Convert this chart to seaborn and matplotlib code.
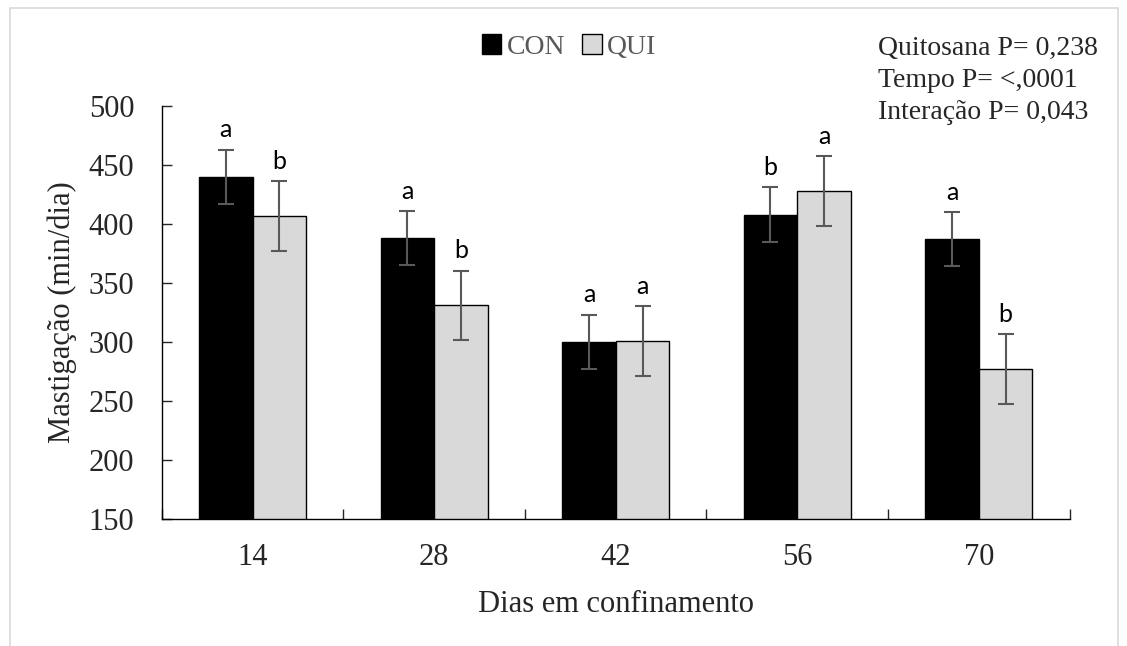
import pandas as pd
import seaborn as sns
import matplotlib.pyplot as plt
from matplotlib.patches import Rectangle

# Data
dias = ['14', '28', '42', '56', '70']
con_media = [440, 388, 300, 408, 387]
qui_media = [407, 331, 301, 428, 277]
con_erro = [23, 23, 23, 23, 23]
qui_erro = [29.5, 29.5, 29.5, 29.5, 29.5]
con_letras = ['a', 'a', 'a', 'b', 'a']
qui_letras = ['b', 'b', 'a', 'a', 'b']
tratamentos = ['CON', 'QUI']

df = pd.DataFrame({
    'Dias': dias * 2,
    'Mastigacao': con_media + qui_media,
    'Tratamento': ['CON'] * len(dias) + ['QUI'] * len(dias),
})

sns.set_style('white')
plt.rcParams['font.family'] = ['Liberation Serif', 'DejaVu Serif']

fig = plt.figure(figsize=(11.27, 6.46), dpi=100)
ax = fig.add_axes([0.1437, 0.1966, 0.949 - 0.1437, 0.836 - 0.1966])

sns.barplot(data=df, x='Dias', y='Mastigacao', hue='Tratamento',
            palette={'CON': '#000000', 'QUI': '#d9d9d9'},
            width=0.59, errorbar=None, edgecolor='black', linewidth=1,
            ax=ax)

# error bars and letters on top of each bar
for cont, erros, letras in zip(ax.containers, [con_erro, qui_erro], [con_letras, qui_letras]):
    for bar, e, letra in zip(cont, erros, letras):
        xc = bar.get_x() + bar.get_width() / 2
        h = bar.get_height()
        ax.errorbar(xc, h, yerr=e, color='#595959', capsize=6, elinewidth=1.5,
                    capthick=1.5)
        ax.annotate(letra, (xc, h + e), xytext=(0, 6), textcoords='offset points',
                    ha='center', va='bottom', fontsize=18, family='Lato',
                    color='black')

ax.set_ylim(150, 500)
ax.set_yticks(range(150, 501, 50))
ax.set_xlim(-0.5, 4.5)
ax.set_ylabel('Mastigação (min/dia)', fontsize=22, labelpad=8)
ax.set_xlabel('Dias em confinamento', fontsize=22, labelpad=13)
ax.tick_params(axis='y', labelsize=22, direction='in', length=7, left=True, width=1, pad=20)
ax.tick_params(axis='x', which='major', labelsize=22, length=0, pad=17)
ax.set_xticks([i - 0.5 for i in range(len(dias) + 1)], minor=True)
ax.tick_params(axis='x', which='minor', direction='in', length=7, bottom=True, width=1)
for s in ['top', 'right']:
    ax.spines[s].set_visible(False)
for s in ['left', 'bottom']:
    ax.spines[s].set_color('black')
    ax.spines[s].set_linewidth(1)

handles, labels = ax.get_legend_handles_labels()
ax.legend(handles, tratamentos, ncol=2, loc='center', bbox_to_anchor=(0.505, 0.927),
          bbox_transform=fig.transFigure, frameon=False, fontsize=20,
          handlelength=0.7, handleheight=0.7, handletextpad=0.2, columnspacing=0.6,
          labelcolor='#595959')

fig.text(0.779, 0.944, 'Quitosana P= 0,238\nTempo P= <,0001\nInteração P= 0,043',
         ha='left', va='top', fontsize=20, linespacing=1.36)

# light border around the chart area
fig.patches.append(Rectangle((10 / 1127, -0.02), 1108 / 1127, 1 - 8 / 646 + 0.02,
                             transform=fig.transFigure, fill=False,
                             edgecolor='#d9d9d9', linewidth=1.2))

plt.savefig('out.png', dpi=100)
